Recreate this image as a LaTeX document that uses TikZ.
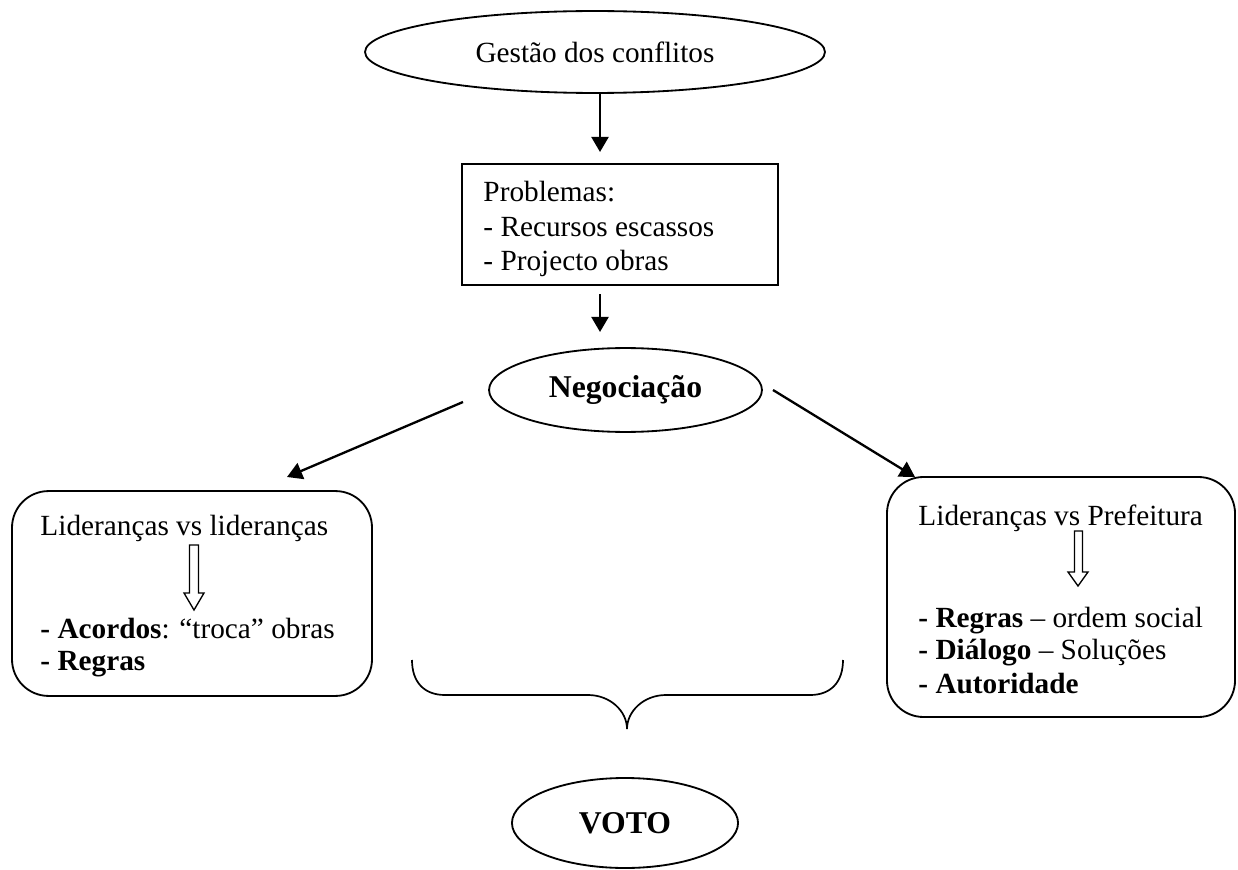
\documentclass[tikz,border=0pt]{standalone}
\usepackage{fontspec}
\setmainfont{Liberation Serif}
\usetikzlibrary{arrows.meta,shapes.geometric}
\begin{document}
\begin{tikzpicture}[x=0.41pt,y=-0.41pt,
  every node/.style={font=\fontsize{12}{13.8}\selectfont},
  oval/.style={draw, ellipse, line width=0.75pt, inner sep=0pt},
  frame/.style={draw, line width=0.75pt, inner sep=0pt},
  soft/.style={draw, line width=0.75pt, inner sep=0pt, rounded corners=15pt},
  line/.style={anchor=base west, inner sep=0pt},
  big/.style={font=\fontsize{13}{15}\selectfont\bfseries},
  link/.style={line width=0.95pt, -{Triangle[length=6.2pt,width=7pt]}},
  hollow/.style={line width=0.55pt},
]
\useasboundingbox (0,0) rectangle (1238,870);

% ellipses
\node[oval, minimum width=188.6pt, minimum height=33.6pt] (gestao) at (595,52) {Gestão dos conflitos};
\node[oval, big, minimum width=111.9pt, minimum height=34.4pt] (neg) at (625.5,390) {Negociação};
\node[oval, big, minimum width=92.7pt, minimum height=36.9pt] (voto) at (625,823) {VOTO};

% problems box
\node[frame, minimum width=129.6pt, minimum height=49.6pt] (prob) at (620,224.5) {};
\node[line] (p1) at (483,202) {Problemas:};
\node[line] (p2) at (483,236) {- Recursos escassos};
\node[line] (p3) at (483,270) {- Projecto obras};

% left rounded box
\node[soft, minimum width=147.6pt, minimum height=84pt] (lbox) at (192,593.5) {};
\node[line] (l1) at (40,535) {Lideranças vs lideranças};
\node[line] (l2) at (40,638) {\textbf{- Acordos}: “troca” obras};
\node[line] (l3) at (40,670) {\textbf{- Regras}};

% right rounded box
\node[soft, minimum width=142.7pt, minimum height=98.4pt] (rbox) at (1061,597) {};
\node[line] (r1) at (918,525) {Lideranças vs Prefeitura};
\node[line] (r2) at (918,627) {\textbf{- Regras} – ordem social};
\node[line] (r3) at (918,659) {\textbf{- Diálogo} – Soluções};
\node[line] (r4) at (918,693) {\textbf{- Autoridade}};

% connector ends
\coordinate (g-out) at (600,93);
\coordinate (p-in) at (600,152);
\coordinate (p-out) at (600,294);
\coordinate (n-in) at (600,332);
\coordinate (n-left) at (463,402);
\coordinate (l-in) at (287,477);
\coordinate (n-right) at (773,390);
\coordinate (r-in) at (915,477);

\draw[link] (g-out) -- (p-in);
\draw[link] (p-out) -- (n-in);
\draw[link] (n-left) -- (l-in);
\draw[link] (n-right) -- (r-in);

% hollow block arrows inside the boxes
\draw[hollow] (189.5,545) -- (198.5,545) -- (198.5,593) -- (204,593) -- (194,610)
  -- (184,593) -- (189.5,593) -- cycle;
\draw[hollow] (1074.5,531) -- (1082.5,531) -- (1082.5,572) -- (1088,572) -- (1078,586)
  -- (1068,572) -- (1074.5,572) -- cycle;

% brace gathering both sides
\draw[line width=0.7pt] (412,660) .. controls (412,682) and (424,695) .. (445,695)
  -- (588,695) .. controls (610,695) and (627,711) .. (627,729)
  .. controls (627,711) and (644,695) .. (666,695)
  -- (810,695) .. controls (831,695) and (843,682) .. (843,660);
\end{tikzpicture}
\end{document}
